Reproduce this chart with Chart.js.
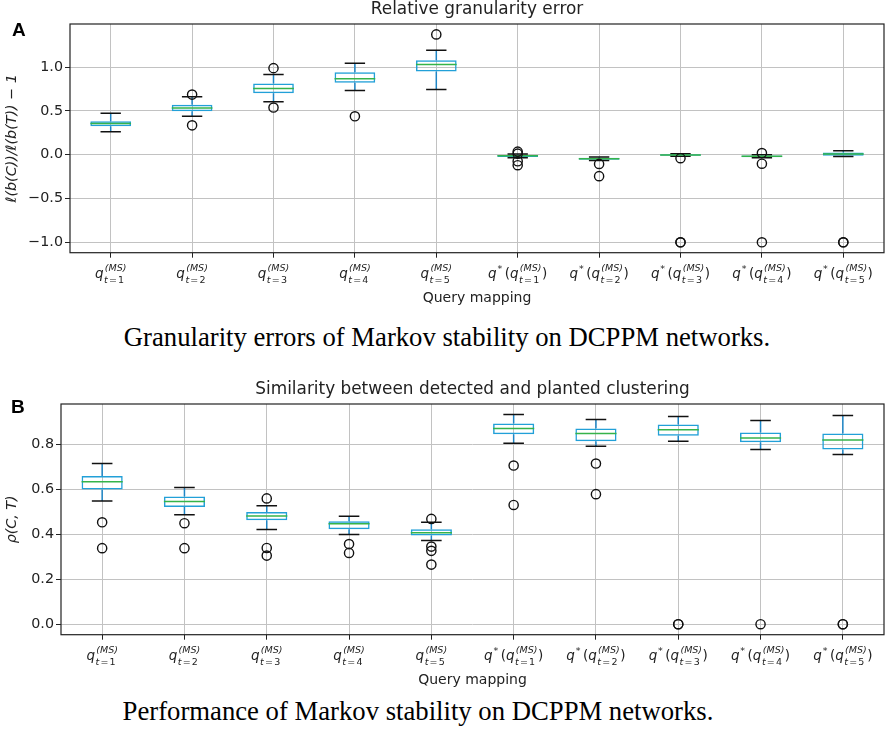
<!DOCTYPE html>
<html>
<head>
<meta charset="utf-8">
<script src="https://cdn.jsdelivr.net/npm/chart.js@4.4.1/dist/chart.umd.min.js"></script>
<style>
  body { margin: 0; background: #fff; }
  #wrap { position: relative; width: 892px; height: 755px; overflow: hidden; }
  canvas { position: absolute; left: 0; }
  .panel { position: absolute; font: bold 19px "Liberation Sans", sans-serif; line-height: 19px; color: #000; }
  .caption { position: absolute; white-space: nowrap; transform: translateX(-50%);
             font: 26.7px "Liberation Serif", serif; line-height: 26.7px; color: #000; }
</style>
</head>
<body>
<div id="wrap">
  <canvas id="chartA" width="892" height="310" style="top:0"></canvas>
  <canvas id="chartB" width="892" height="312" style="top:380px"></canvas>
  <div class="panel" style="left:12px; top:20px">A</div>
  <div class="panel" style="left:11px; top:397px">B</div>
  <div class="caption" style="left:447px; top:324px">Granularity errors of Markov stability on DCPPM networks.</div>
  <div class="caption" style="left:418px; top:698px">Performance of Markov stability on DCPPM networks.</div>
</div>
<script>
// query mappings: t index and whether it is the q* version
var queryT = [1, 2, 3, 4, 5, 1, 2, 3, 4, 5];
var queryStar = [false, false, false, false, false, true, true, true, true, true];

// A: relative granularity error (whisker low, Q1, median, Q3, whisker high, fliers)
var granLow  = [0.263, 0.438, 0.603, 0.732, 0.744, -0.035, -0.066, -0.018, -0.035, -0.020];
var granQ1   = [0.324, 0.496, 0.701, 0.820, 0.950, -0.025, -0.058, -0.012, -0.028, -0.012];
var granMed  = [0.355, 0.534, 0.755, 0.866, 1.030, -0.012, -0.046, -0.003, -0.018, 0.008];
var granQ3   = [0.381, 0.569, 0.812, 0.942, 1.079, 0.000, -0.036, 0.004, -0.008, 0.024];
var granHigh = [0.473, 0.660, 0.915, 1.045, 1.193, 0.008, -0.026, 0.010, 0.000, 0.046];
var granOut  = [[], [0.686, 0.335], [0.988, 0.538], [0.438], [1.373],
                [0.035, 0.012, -0.075, -0.120], [-0.105, -0.245], [-0.040, -1.0, -1.0],
                [0.019, -0.103, -1.0], [-1.0, -1.0]];

// B: similarity between detected and planted clustering
var simLow  = [0.548, 0.486, 0.421, 0.399, 0.372, 0.804, 0.791, 0.813, 0.776, 0.754];
var simQ1   = [0.599, 0.521, 0.462, 0.422, 0.394, 0.844, 0.813, 0.837, 0.809, 0.776];
var simMed  = [0.633, 0.545, 0.481, 0.446, 0.406, 0.870, 0.848, 0.864, 0.828, 0.819];
var simQ3   = [0.659, 0.567, 0.499, 0.458, 0.422, 0.892, 0.870, 0.888, 0.852, 0.848];
var simHigh = [0.714, 0.607, 0.526, 0.480, 0.453, 0.932, 0.910, 0.923, 0.905, 0.927];
var simOut  = [[0.453, 0.338], [0.449, 0.338], [0.559, 0.339, 0.305], [0.356, 0.317],
               [0.468, 0.345, 0.326, 0.265], [0.705, 0.530], [0.714, 0.578],
               [0.0, 0.0], [0.0], [0.0, 0.0]];

var labels = queryT.map(function (t, i) {
  return queryStar[i] ? 'q*(q(MS) t=' + t + ')' : 'q(MS) t=' + t;
});

var BOX = '#22a0d8', WHISK = '#1f86c6', MED = '#35b34a', CAP = '#111';
var FONT = '"DejaVu Sans"';

// lay out q_{t=k}^{(MS)} or q^*(q_{t=k}^{(MS)}) as pieces
function mathPieces(ctx, t, star) {
  var IT = 'italic 13.5px ' + FONT, RM = '13.5px ' + FONT;
  var SIT = 'italic 9.5px ' + FONT, SRM = '9.5px ' + FONT;
  var segs = [], x = 0;
  function put(text, font, dy) {
    ctx.font = font;
    segs.push({ text: text, font: font, x: x, dy: dy });
    var w = ctx.measureText(text).width;
    x += w;
    return w;
  }
  function core() {
    put('q', IT, 0);
    var x0 = x + 0.5;
    x = x0 + 0.8;
    put('(', SIT, -6.5); put('MS', SIT, -6.5); put(')', SIT, -6.5);
    var wSup = x - x0;
    x = x0;
    put('t', SIT, 5); x += 1.2; put('=', SRM, 5); x += 1.2; put(String(t), SRM, 5);
    x = x0 + Math.max(wSup, x - x0);
  }
  if (star) {
    put('q', IT, 0); x += 0.8; put('*', SRM, -6); x += 2.5;
    put('(', RM, 0); core(); x += 0.5; put(')', RM, 0);
  } else {
    core();
  }
  return { segs: segs, width: x };
}

var boxParts = {
  id: 'boxParts',
  afterDatasetDraw: function (chart, args, opts) {
    if (args.index !== 0) return;
    var ctx = chart.ctx, xs = chart.scales.x, ys = chart.scales.y;
    var unit = xs.getPixelForValue(1) - xs.getPixelForValue(0);
    ctx.save();
    ctx.lineWidth = 1.5;
    for (var i = 0; i < opts.med.length; i++) {
      var cx = xs.getPixelForValue(i);
      var yLow = ys.getPixelForValue(opts.low[i]), yQ1 = ys.getPixelForValue(opts.q1[i]);
      var yQ3 = ys.getPixelForValue(opts.q3[i]), yHigh = ys.getPixelForValue(opts.high[i]);
      var yMed = ys.getPixelForValue(opts.med[i]);
      ctx.strokeStyle = WHISK;
      ctx.beginPath();
      ctx.moveTo(cx, yQ1); ctx.lineTo(cx, yLow);
      ctx.moveTo(cx, yQ3); ctx.lineTo(cx, yHigh);
      ctx.stroke();
      ctx.strokeStyle = CAP;
      ctx.beginPath();
      ctx.moveTo(cx - unit * 0.125, yLow); ctx.lineTo(cx + unit * 0.125, yLow);
      ctx.moveTo(cx - unit * 0.125, yHigh); ctx.lineTo(cx + unit * 0.125, yHigh);
      ctx.stroke();
      ctx.strokeStyle = MED;
      ctx.beginPath();
      ctx.moveTo(cx - unit * 0.25, yMed); ctx.lineTo(cx + unit * 0.25, yMed);
      ctx.stroke();
    }
    ctx.restore();
  },
  afterDraw: function (chart) {
    var ctx = chart.ctx, a = chart.chartArea, xs = chart.scales.x;
    ctx.save();
    ctx.strokeStyle = '#222';
    ctx.lineWidth = 1.2;
    ctx.strokeRect(a.left, a.top, a.right - a.left, a.bottom - a.top);
    ctx.fillStyle = '#222';
    ctx.textBaseline = 'alphabetic';
    ctx.textAlign = 'left';
    for (var i = 0; i < queryT.length; i++) {
      var p = mathPieces(ctx, queryT[i], queryStar[i]);
      var x0 = xs.getPixelForTick(i) - p.width / 2;
      var base = a.bottom + 25;
      p.segs.forEach(function (s) {
        ctx.font = s.font;
        ctx.fillText(s.text, x0 + s.x, base + s.dy);
      });
    }
    ctx.restore();
  }
};

function makeChart(id, title, yTitle, low, q1, med, q3, high, out, yStep, yAxisWidth, yTitlePad) {
  var lo = Infinity, hi = -Infinity;
  for (var i = 0; i < med.length; i++) {
    lo = Math.min(lo, low[i]); hi = Math.max(hi, high[i]);
    out[i].forEach(function (v) { lo = Math.min(lo, v); hi = Math.max(hi, v); });
  }
  var margin = (hi - lo) * 0.05;
  var fliers = [];
  out.forEach(function (arr, i) {
    arr.forEach(function (v) { fliers.push({ x: labels[i], y: v }); });
  });

  return new Chart(document.getElementById(id), {
    type: 'bar',
    data: {
      labels: labels,
      datasets: [{
        type: 'bar',
        data: q1.map(function (v, i) { return [v, q3[i]]; }),
        backgroundColor: 'rgba(0,0,0,0)',
        borderColor: BOX,
        borderWidth: 1.5,
        borderSkipped: false,
        barPercentage: 0.5,
        categoryPercentage: 1.0,
        order: 2
      }, {
        type: 'scatter',
        data: fliers,
        pointStyle: 'circle',
        pointRadius: 4.6,
        pointBorderWidth: 1.4,
        pointBorderColor: '#111',
        pointBackgroundColor: 'rgba(0,0,0,0)',
        order: 1
      }]
    },
    options: {
      responsive: false,
      animation: false,
      layout: { padding: { left: 0, right: 8, top: 0, bottom: 0 } },
      scales: {
        x: {
          type: 'category',
          offset: true,
          grid: { offset: false, color: '#c2c2c2', lineWidth: 1, tickLength: 5, tickColor: '#222', tickWidth: 1 },
          border: { display: false },
          ticks: { display: false },
          title: { display: true, text: 'Query mapping', color: '#222',
                   font: { family: FONT, size: 14, lineHeight: '16px' }, padding: { top: 0, bottom: 4 } },
          afterFit: function (s) { s.height = 57.3; }
        },
        y: {
          type: 'linear',
          min: lo - margin,
          max: hi + margin,
          grid: { color: '#c2c2c2', lineWidth: 1, tickLength: 5, tickColor: '#222', tickWidth: 1 },
          border: { display: false },
          ticks: {
            stepSize: yStep,
            includeBounds: false,
            padding: 2,
            color: '#222',
            font: { family: FONT, size: 14.3 },
            callback: function (v) {
              var r = Math.round(v * 10) / 10;
              return (r < 0 ? '\u2212' : '') + Math.abs(r).toFixed(1);
            }
          },
          title: { display: true, text: yTitle, color: '#222',
                   font: { family: FONT, size: 14.3, style: 'italic', lineHeight: '16px' },
                   padding: { top: yTitlePad, bottom: 0 } },
          afterFit: function (s) { s.width = yAxisWidth; }
        }
      },
      plugins: {
        legend: { display: false },
        tooltip: { enabled: false },
        title: {
          display: true,
          text: title,
          fullSize: false,
          color: '#222',
          font: { family: FONT, size: 16.9, weight: 'normal', lineHeight: '16px' },
          padding: { top: 2, bottom: 6 }
        },
        boxParts: { low: low, q1: q1, med: med, q3: q3, high: high }
      }
    },
    plugins: [boxParts]
  });
}

makeChart('chartA', 'Relative granularity error', '\u2113(b(C))/\u2113(b(T)) \u2212 1',
  granLow, granQ1, granMed, granQ3, granHigh, granOut, 0.5, 70, 4);
makeChart('chartB', 'Similarity between detected and planted clustering', '\u03c1(C, T)',
  simLow, simQ1, simMed, simQ3, simHigh, simOut, 0.2, 61, 4.5);
</script>
</body>
</html>
